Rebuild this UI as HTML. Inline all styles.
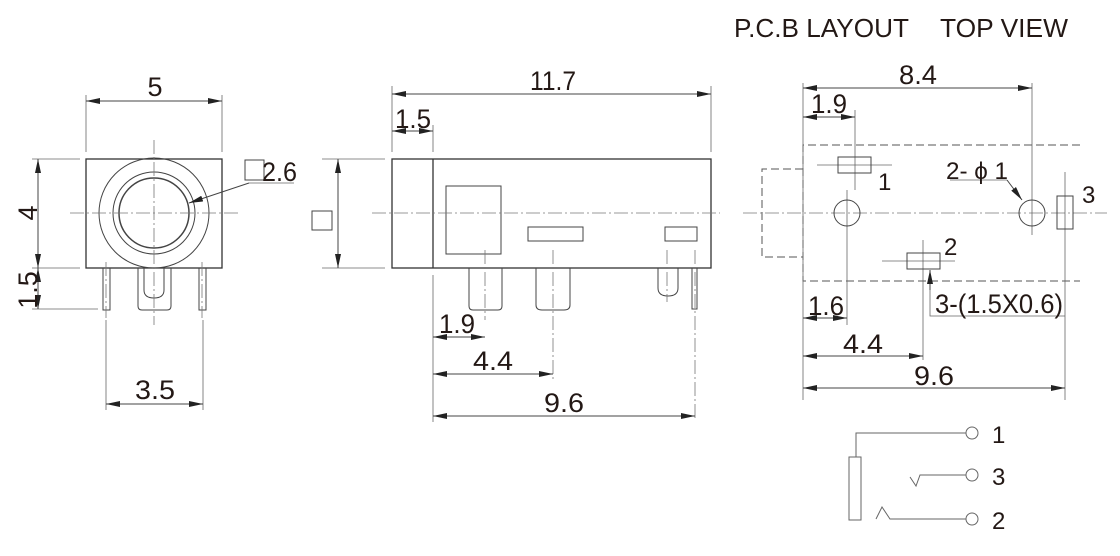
<!DOCTYPE html>
<html><head><meta charset="utf-8"><style>
html,body{margin:0;padding:0;background:#fff;}
svg{display:block;}
text{font-family:"Liberation Sans",Arial,sans-serif;fill:#231815;}
</style></head><body>
<svg width="1120" height="556" viewBox="0 0 1120 556" xmlns="http://www.w3.org/2000/svg">
<defs>
<marker id="a" viewBox="0 0 14 6" refX="14" refY="3" markerWidth="14" markerHeight="6" orient="auto-start-reverse" markerUnits="userSpaceOnUse"><path d="M0,0 L14,3 L0,6 z" fill="#222"/></marker>
</defs>
<g stroke="#444" stroke-width="1" fill="none">
<rect x="86" y="159" width="136" height="109" stroke="#333" stroke-width="1.3"/>
<circle cx="154" cy="213" r="55"/>
<circle cx="154" cy="213" r="41"/>
<circle cx="154" cy="213" r="35" stroke-width="1.5"/>
<path d="M103,268 V310 H110 V268"/>
<path d="M199,268 V310 H206 V268"/>
<path d="M138,268 V306 Q138,310 142,310 H167 Q171,310 171,306 V268"/>
<path d="M144,268 V290 Q144,298 154,298 Q164,298 164,290 V268"/>
<g stroke="#777" stroke-width="0.8" stroke-dasharray="14,3,2,3">
<line x1="70" y1="213" x2="240" y2="213"/>
<line x1="154" y1="140" x2="154" y2="325"/>
<line x1="106" y1="262" x2="106" y2="318"/>
<line x1="202" y1="262" x2="202" y2="318"/>
</g>
<g stroke="#666" stroke-width="0.8">
<line x1="86" y1="95" x2="86" y2="152"/><line x1="222" y1="95" x2="222" y2="152"/>
<line x1="32" y1="159" x2="80" y2="159"/><line x1="32" y1="268" x2="80" y2="268"/>
<line x1="32" y1="309" x2="98" y2="309"/>
<line x1="106" y1="320" x2="106" y2="410"/><line x1="203" y1="320" x2="203" y2="410"/>
<line x1="249" y1="183" x2="294" y2="183"/>
</g>
<line x1="86" y1="101" x2="222" y2="101" marker-start="url(#a)" marker-end="url(#a)"/>
<line x1="38" y1="159" x2="38" y2="268" marker-start="url(#a)" marker-end="url(#a)"/>
<line x1="38" y1="268" x2="38" y2="309" marker-start="url(#a)" marker-end="url(#a)"/>
<line x1="106" y1="404" x2="203" y2="404" marker-start="url(#a)" marker-end="url(#a)"/>
<line x1="249" y1="183" x2="189" y2="203" marker-end="url(#a)"/>
<rect x="245" y="160" width="19" height="20"/>
<rect x="312" y="211" width="20" height="19"/>

<rect x="392" y="159" width="319" height="109" stroke="#333" stroke-width="1.3"/>
<line x1="433" y1="159" x2="433" y2="268" stroke="#333" stroke-width="1.3"/>
<rect x="446" y="186" width="55" height="68"/>
<rect x="528" y="227" width="55" height="14"/>
<rect x="665" y="227" width="32" height="14"/>
<path d="M469,268 V306 Q469,310 473,310 H498 Q502,310 502,306 V268"/>
<path d="M536,268 V305 Q536,310 542,310 H564 Q570,310 570,305 V268"/>
<path d="M658,268 V288 Q658,296 668,296 Q678,296 678,288 V268"/>
<path d="M692,268 V309 H697 V268"/>
<g stroke="#777" stroke-width="0.8" stroke-dasharray="14,3,2,3">
<line x1="372" y1="213" x2="720" y2="213"/>
<line x1="485" y1="250" x2="485" y2="320"/>
<line x1="553" y1="250" x2="553" y2="380"/>
<line x1="667" y1="250" x2="667" y2="302"/>
<line x1="695" y1="250" x2="695" y2="420"/>
</g>
<g stroke="#666" stroke-width="0.8">
<line x1="392" y1="86" x2="392" y2="152"/><line x1="711" y1="86" x2="711" y2="152"/>
<line x1="433" y1="125" x2="433" y2="152"/>
<line x1="322" y1="159" x2="385" y2="159"/><line x1="322" y1="268" x2="385" y2="268"/>
<line x1="433" y1="275" x2="433" y2="422"/>
</g>
<line x1="392" y1="94" x2="711" y2="94" marker-start="url(#a)" marker-end="url(#a)"/>
<line x1="392" y1="131" x2="433" y2="131" marker-start="url(#a)" marker-end="url(#a)"/>
<line x1="338" y1="159" x2="338" y2="268" marker-start="url(#a)" marker-end="url(#a)"/>
<line x1="433" y1="337" x2="485" y2="337" marker-start="url(#a)" marker-end="url(#a)"/>
<line x1="433" y1="374" x2="553" y2="374" marker-start="url(#a)" marker-end="url(#a)"/>
<line x1="433" y1="416" x2="695" y2="416" marker-start="url(#a)" marker-end="url(#a)"/>

<g stroke="#555" stroke-dasharray="8,4">
<path d="M1080,145 H803 V281 H1080"/>
<path d="M803,169 H762 V257 H803"/>
</g>
<g stroke="#777" stroke-width="0.8" stroke-dasharray="14,3,2,3">
<line x1="743" y1="213" x2="1107" y2="213"/>
</g>
<g stroke="#666" stroke-width="0.8">
<line x1="817" y1="165" x2="892" y2="165"/>
<line x1="882" y1="261" x2="955" y2="261"/>
<line x1="803" y1="83" x2="803" y2="400"/>
<line x1="1032" y1="83" x2="1032" y2="235"/>
<line x1="855" y1="110" x2="855" y2="190"/>
<line x1="847" y1="190" x2="847" y2="325"/>
<line x1="923" y1="240" x2="923" y2="360"/>
<line x1="1065" y1="172" x2="1065" y2="400"/>
<line x1="950" y1="180" x2="1007" y2="180"/>
<path d="M930,270 V316 H1065"/>
</g>
<rect x="838" y="157" width="33" height="16"/>
<rect x="907" y="253" width="33" height="16"/>
<rect x="1057" y="196" width="16" height="33"/>
<circle cx="847" cy="213" r="13"/>
<circle cx="1032" cy="213" r="13"/>
<line x1="1007" y1="180" x2="1022" y2="200" marker-end="url(#a)"/>
<line x1="930" y1="290" x2="930" y2="270" marker-end="url(#a)"/>
<line x1="803" y1="88" x2="1032" y2="88" marker-start="url(#a)" marker-end="url(#a)"/>
<line x1="803" y1="117" x2="855" y2="117" marker-start="url(#a)" marker-end="url(#a)"/>
<line x1="803" y1="318" x2="847" y2="318" marker-start="url(#a)" marker-end="url(#a)"/>
<line x1="803" y1="356" x2="923" y2="356" marker-start="url(#a)" marker-end="url(#a)"/>
<line x1="803" y1="388" x2="1065" y2="388" marker-start="url(#a)" marker-end="url(#a)"/>

<g stroke="#666">
<rect x="849" y="457" width="12" height="63"/>
<path d="M856,457 V433 H966"/>
<path d="M910,477 L916,486 L920,475 H966"/>
<path d="M876,519 L882,507 L890,519 H966"/>
<circle cx="972" cy="433" r="6"/>
<circle cx="972" cy="475" r="6"/>
<circle cx="972" cy="519" r="6"/>
</g>
</g>

<g font-size="27">
<text x="734" y="37" font-size="26" textLength="175" lengthAdjust="spacingAndGlyphs">P.C.B LAYOUT</text>
<text x="940" y="37" font-size="26" textLength="128" lengthAdjust="spacingAndGlyphs">TOP VIEW</text>
<text x="155" y="96" text-anchor="middle">5</text>
<text x="262" y="181" textLength="35" lengthAdjust="spacingAndGlyphs">2.6</text>
<text x="155" y="399" text-anchor="middle" textLength="40" lengthAdjust="spacingAndGlyphs">3.5</text>
<text transform="translate(37,213) rotate(-90)" text-anchor="middle">4</text>
<text transform="translate(37,290) rotate(-90)" text-anchor="middle">1.5</text>
<text x="553" y="90" text-anchor="middle" textLength="46" lengthAdjust="spacingAndGlyphs">11.7</text>
<text x="413" y="128" text-anchor="middle" textLength="36" lengthAdjust="spacingAndGlyphs">1.5</text>
<text x="457" y="333" text-anchor="middle" textLength="36" lengthAdjust="spacingAndGlyphs">1.9</text>
<text x="493" y="370" text-anchor="middle" textLength="40" lengthAdjust="spacingAndGlyphs">4.4</text>
<text x="564" y="412" text-anchor="middle" textLength="40" lengthAdjust="spacingAndGlyphs">9.6</text>
<text x="918" y="84" text-anchor="middle" textLength="38" lengthAdjust="spacingAndGlyphs">8.4</text>
<text x="829" y="113" text-anchor="middle" textLength="36" lengthAdjust="spacingAndGlyphs">1.9</text>
<text x="878" y="190" font-size="24">1</text>
<text x="946" y="179" font-size="24" textLength="62" lengthAdjust="spacingAndGlyphs">2- ϕ 1</text>
<text x="1082" y="203" font-size="24">3</text>
<text x="944" y="255" font-size="24">2</text>
<text x="826" y="315" text-anchor="middle" textLength="36" lengthAdjust="spacingAndGlyphs">1.6</text>
<text x="935" y="313" textLength="128" lengthAdjust="spacingAndGlyphs">3-(1.5X0.6)</text>
<text x="863" y="353" text-anchor="middle" textLength="40" lengthAdjust="spacingAndGlyphs">4.4</text>
<text x="934" y="385" text-anchor="middle" textLength="40" lengthAdjust="spacingAndGlyphs">9.6</text>
<text x="992" y="443" font-size="24">1</text>
<text x="992" y="485" font-size="24">3</text>
<text x="992" y="529" font-size="24">2</text>
</g>
</svg>
</body></html>
